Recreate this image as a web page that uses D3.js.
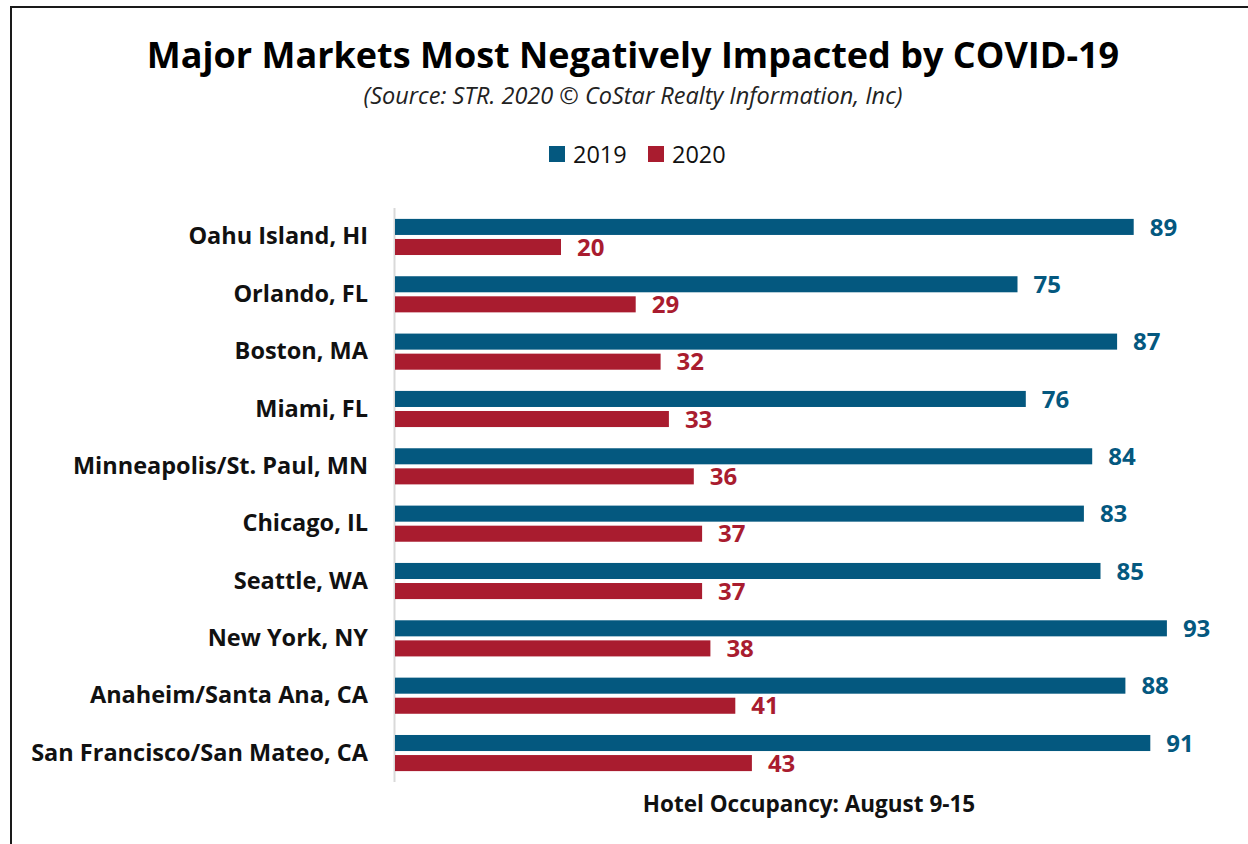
<!DOCTYPE html>
<html>
<head>
<meta charset="utf-8">
<script src="https://cdn.jsdelivr.net/npm/d3@7"></script>
<style>
  html, body { margin: 0; padding: 0; background: #fff; }
  svg { display: block; font-family: "Open Sans", Lato, sans-serif; }
</style>
</head>
<body>
<div id="chart"></div>
<script>
// 資料
const markets = [
    'Oahu Island, HI', 'Orlando, FL', 'Boston, MA', 'Miami, FL',
    'Minneapolis/St. Paul, MN', 'Chicago, IL', 'Seattle, WA',
    'New York, NY', 'Anaheim/Santa Ana, CA', 'San Francisco/San Mateo, CA'
];
const occ2019 = [89, 75, 87, 76, 84, 83, 85, 93, 88, 91];
const occ2020 = [20, 29, 32, 33, 36, 37, 37, 38, 41, 43];
const seriesNames = ['2019', '2020'];
const seriesColors = ['#04587f', '#a91c2f'];

const width = 1248, height = 844;
const margin = { top: 208, right: 23, bottom: 62, left: 395 };
const innerWidth = width - margin.left - margin.right;
const innerHeight = height - margin.top - margin.bottom;

const svg = d3.select('#chart').append('svg')
    .attr('width', width)
    .attr('height', height);

// 外框（右側與下側超出畫面）
svg.append('path')
    .attr('d', `M11,${height}V7H${width}`)
    .attr('fill', 'none')
    .attr('stroke', '#1a1a1a')
    .attr('stroke-width', 2);

// 標題
svg.append('text')
    .attr('x', 633).attr('y', 68)
    .attr('text-anchor', 'middle')
    .attr('font-size', 36).attr('font-weight', 700)
    .text('Major Markets Most Negatively Impacted by COVID-19');

svg.append('text')
    .attr('x', 633).attr('y', 104)
    .attr('text-anchor', 'middle')
    .attr('font-size', 23.5).attr('font-style', 'italic')
    .attr('fill', '#222')
    .text('(Source: STR. 2020 \u00A9 CoStar Realty Information, Inc)');

// 圖例
const legendX = [549, 648];
const legend = svg.append('g');
seriesNames.forEach((name, i) => {
    legend.append('rect')
        .attr('x', legendX[i]).attr('y', 146)
        .attr('width', 16).attr('height', 16)
        .attr('fill', seriesColors[i]);
    legend.append('text')
        .attr('x', legendX[i] + 24).attr('y', 163)
        .attr('font-size', 23.5)
        .attr('fill', '#111')
        .text(name);
});

const g = svg.append('g')
    .attr('transform', `translate(${margin.left},${margin.top})`);

// 比例尺
const xScale = d3.scaleLinear()
    .domain([0, 100])
    .range([0, innerWidth]);

const yScale = d3.scaleBand()
    .domain(markets)
    .range([0, innerHeight])
    .paddingInner(0.37)
    .paddingOuter(0.19);

const ySub = d3.scaleBand()
    .domain(seriesNames)
    .range([0, yScale.bandwidth()])
    .paddingInner(0.2);

// 座標軸
const yAxis = d3.axisLeft(yScale).tickSize(0).tickPadding(27);
const yAxisG = g.append('g').call(yAxis);
yAxisG.select('.domain')
    .attr('d', `M-0.5,0V${innerHeight}`)
    .attr('stroke', '#d9d9d9')
    .attr('stroke-width', 2);
yAxisG.selectAll('text')
    .attr('font-family', '"Open Sans", Lato, sans-serif')
    .attr('font-size', 23.5)
    .attr('font-weight', 700)
    .attr('fill', '#111');

// 長條
const rows = markets.map((m, i) => ({
    market: m,
    values: [
        { key: '2019', value: occ2019[i], color: seriesColors[0] },
        { key: '2020', value: occ2020[i], color: seriesColors[1] }
    ]
}));

const groups = g.selectAll('.row')
    .data(rows)
    .enter().append('g')
    .attr('class', 'row')
    .attr('transform', d => `translate(0,${yScale(d.market)})`);

groups.selectAll('rect')
    .data(d => d.values)
    .enter().append('rect')
    .attr('x', 0)
    .attr('y', d => ySub(d.key))
    .attr('width', d => xScale(d.value))
    .attr('height', ySub.bandwidth())
    .attr('fill', d => d.color);

groups.selectAll('.val')
    .data(d => d.values)
    .enter().append('text')
    .attr('class', 'val')
    .attr('x', d => xScale(d.value) + 16)
    .attr('y', d => ySub(d.key) + ySub.bandwidth() / 2)
    .attr('dy', '0.36em')
    .attr('font-size', 24)
    .attr('font-weight', 700)
    .attr('fill', d => d.color)
    .text(d => d.value);

// X 軸標題
svg.append('text')
    .attr('x', margin.left + innerWidth / 2 - 1)
    .attr('y', 812)
    .attr('text-anchor', 'middle')
    .attr('font-size', 22.5)
    .attr('font-weight', 700)
    .attr('fill', '#111')
    .text('Hotel Occupancy: August 9-15');
</script>
</body>
</html>
